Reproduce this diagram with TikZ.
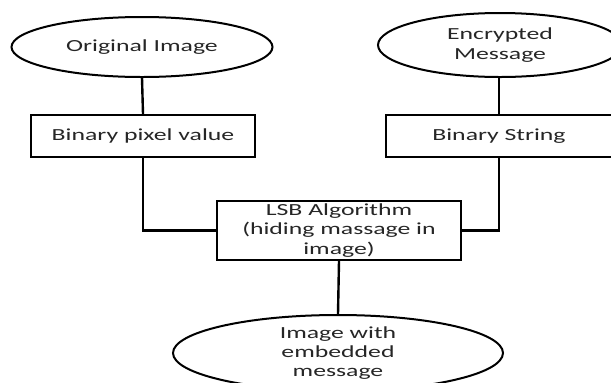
\documentclass[tikz,border=0pt]{standalone}
\usepackage{fontspec}
\setmainfont[FakeStretch=1.52]{Carlito}
\usetikzlibrary{shapes.geometric}
\begin{document}
\begin{tikzpicture}[x=1bp,y=-1bp,
  every node/.style={font=\fontsize{17}{19.5}\selectfont, text=black!85, align=center, inner sep=0pt},
  oval/.style={draw, line width=2bp, ellipse},
  box/.style={draw, line width=2bp, rectangle},
  conn/.style={line width=2.4bp}]
\useasboundingbox (0,0) rectangle (611,382);
\fill[white] (0,0) rectangle (611,382);
\node[oval, minimum width=261bp, minimum height=60bp] (e1) at (142,47) {Original Image};
\node[oval, minimum width=244bp, minimum height=64bp] (e2) at (500,45) {Encrypted\\Message};
\node[box, minimum width=224bp, minimum height=42bp] (b1) at (143,136) {Binary pixel value};
\node[box, minimum width=226bp, minimum height=42bp] (b2) at (499,136) {Binary String};
\node[box, minimum width=244bp, minimum height=59bp] (lsb) at (339,230.5) {LSB Algorithm\\(hiding massage in\\image)};
\node[oval, minimum width=330bp, minimum height=76bp] (e3) at (338,353) {Image with\\embedded\\message};
\draw[conn] (e1.south) -- (b1.north);
\draw[conn] (e2.south -| b2.north) -- (b2.north);
\draw[conn] (b1.south) |- (lsb.west);
\draw[conn] (b2.south) |- (lsb.east);
\draw[conn] (lsb.south) -- (e3.north);
\end{tikzpicture}
\end{document}
